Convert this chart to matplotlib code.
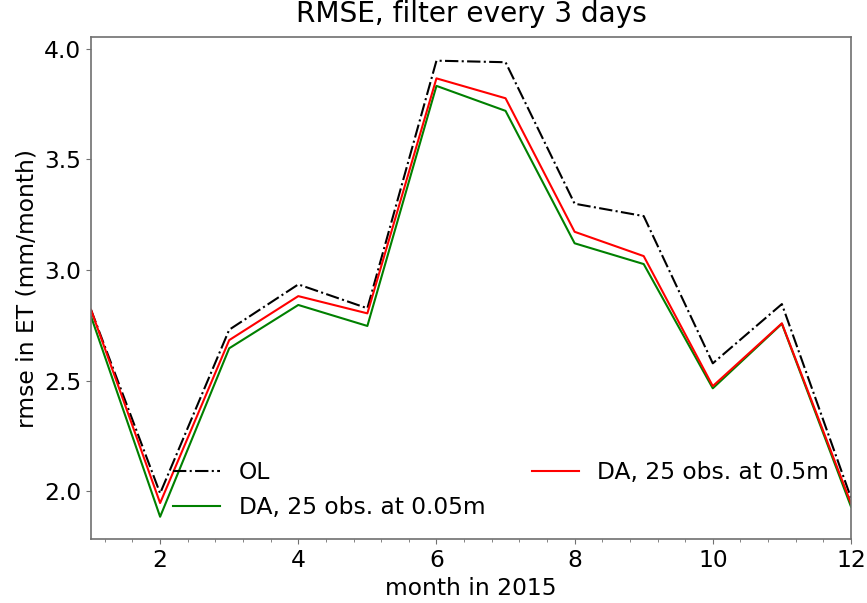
import matplotlib.pyplot as plt
from matplotlib.ticker import MultipleLocator

# monthly RMSE of ET (mm/month)
months = [1, 2, 3, 4, 5, 6, 7, 8, 9, 10, 11, 12]
rmse_ol = [2.82, 1.99, 2.73, 2.935, 2.827, 3.947, 3.94, 3.30, 3.244, 2.578, 2.846, 1.97]
rmse_da_005 = [2.79, 1.884, 2.646, 2.842, 2.747, 3.833, 3.72, 3.121, 3.027, 2.465, 2.757, 1.93]
rmse_da_05 = [2.82, 1.946, 2.683, 2.882, 2.804, 3.867, 3.777, 3.173, 3.063, 2.475, 2.759, 1.945]

plt.rcParams['font.size'] = 16.8

fig = plt.figure(figsize=(8.67, 6.03), dpi=100)
ax = fig.add_axes([0.105, 0.106, 0.8765, 0.8326])

ax.plot(months, rmse_ol, 'k-.', lw=1.5, label='OL')
ax.plot(months, rmse_da_005, color='green', lw=1.5, label='DA, 25 obs. at 0.05m')
ax.plot(months, rmse_da_05, color='red', lw=1.5, label='DA, 25 obs. at 0.5m')

ax.set_xlim(1, 12)
ax.set_ylim(1.783, 4.054)
ax.set_xticks([2, 4, 6, 8, 10, 12])
ax.xaxis.set_minor_locator(MultipleLocator(0.4))
ax.set_yticks([2.0, 2.5, 3.0, 3.5, 4.0])

for s in ax.spines.values():
    s.set_color('#707070')
    s.set_linewidth(1.2)
ax.tick_params(which='both', color='#707070')

ax.set_title('RMSE, filter every 3 days', pad=11)
ax.set_xlabel('month in 2015')
ax.set_ylabel('rmse in ET (mm/month)')

ax.legend(ncol=2, frameon=False, loc='lower center', bbox_to_anchor=(0.54, -0.002),
          columnspacing=2.0, handlelength=2.0)

fig.savefig('out.png', dpi=100)
